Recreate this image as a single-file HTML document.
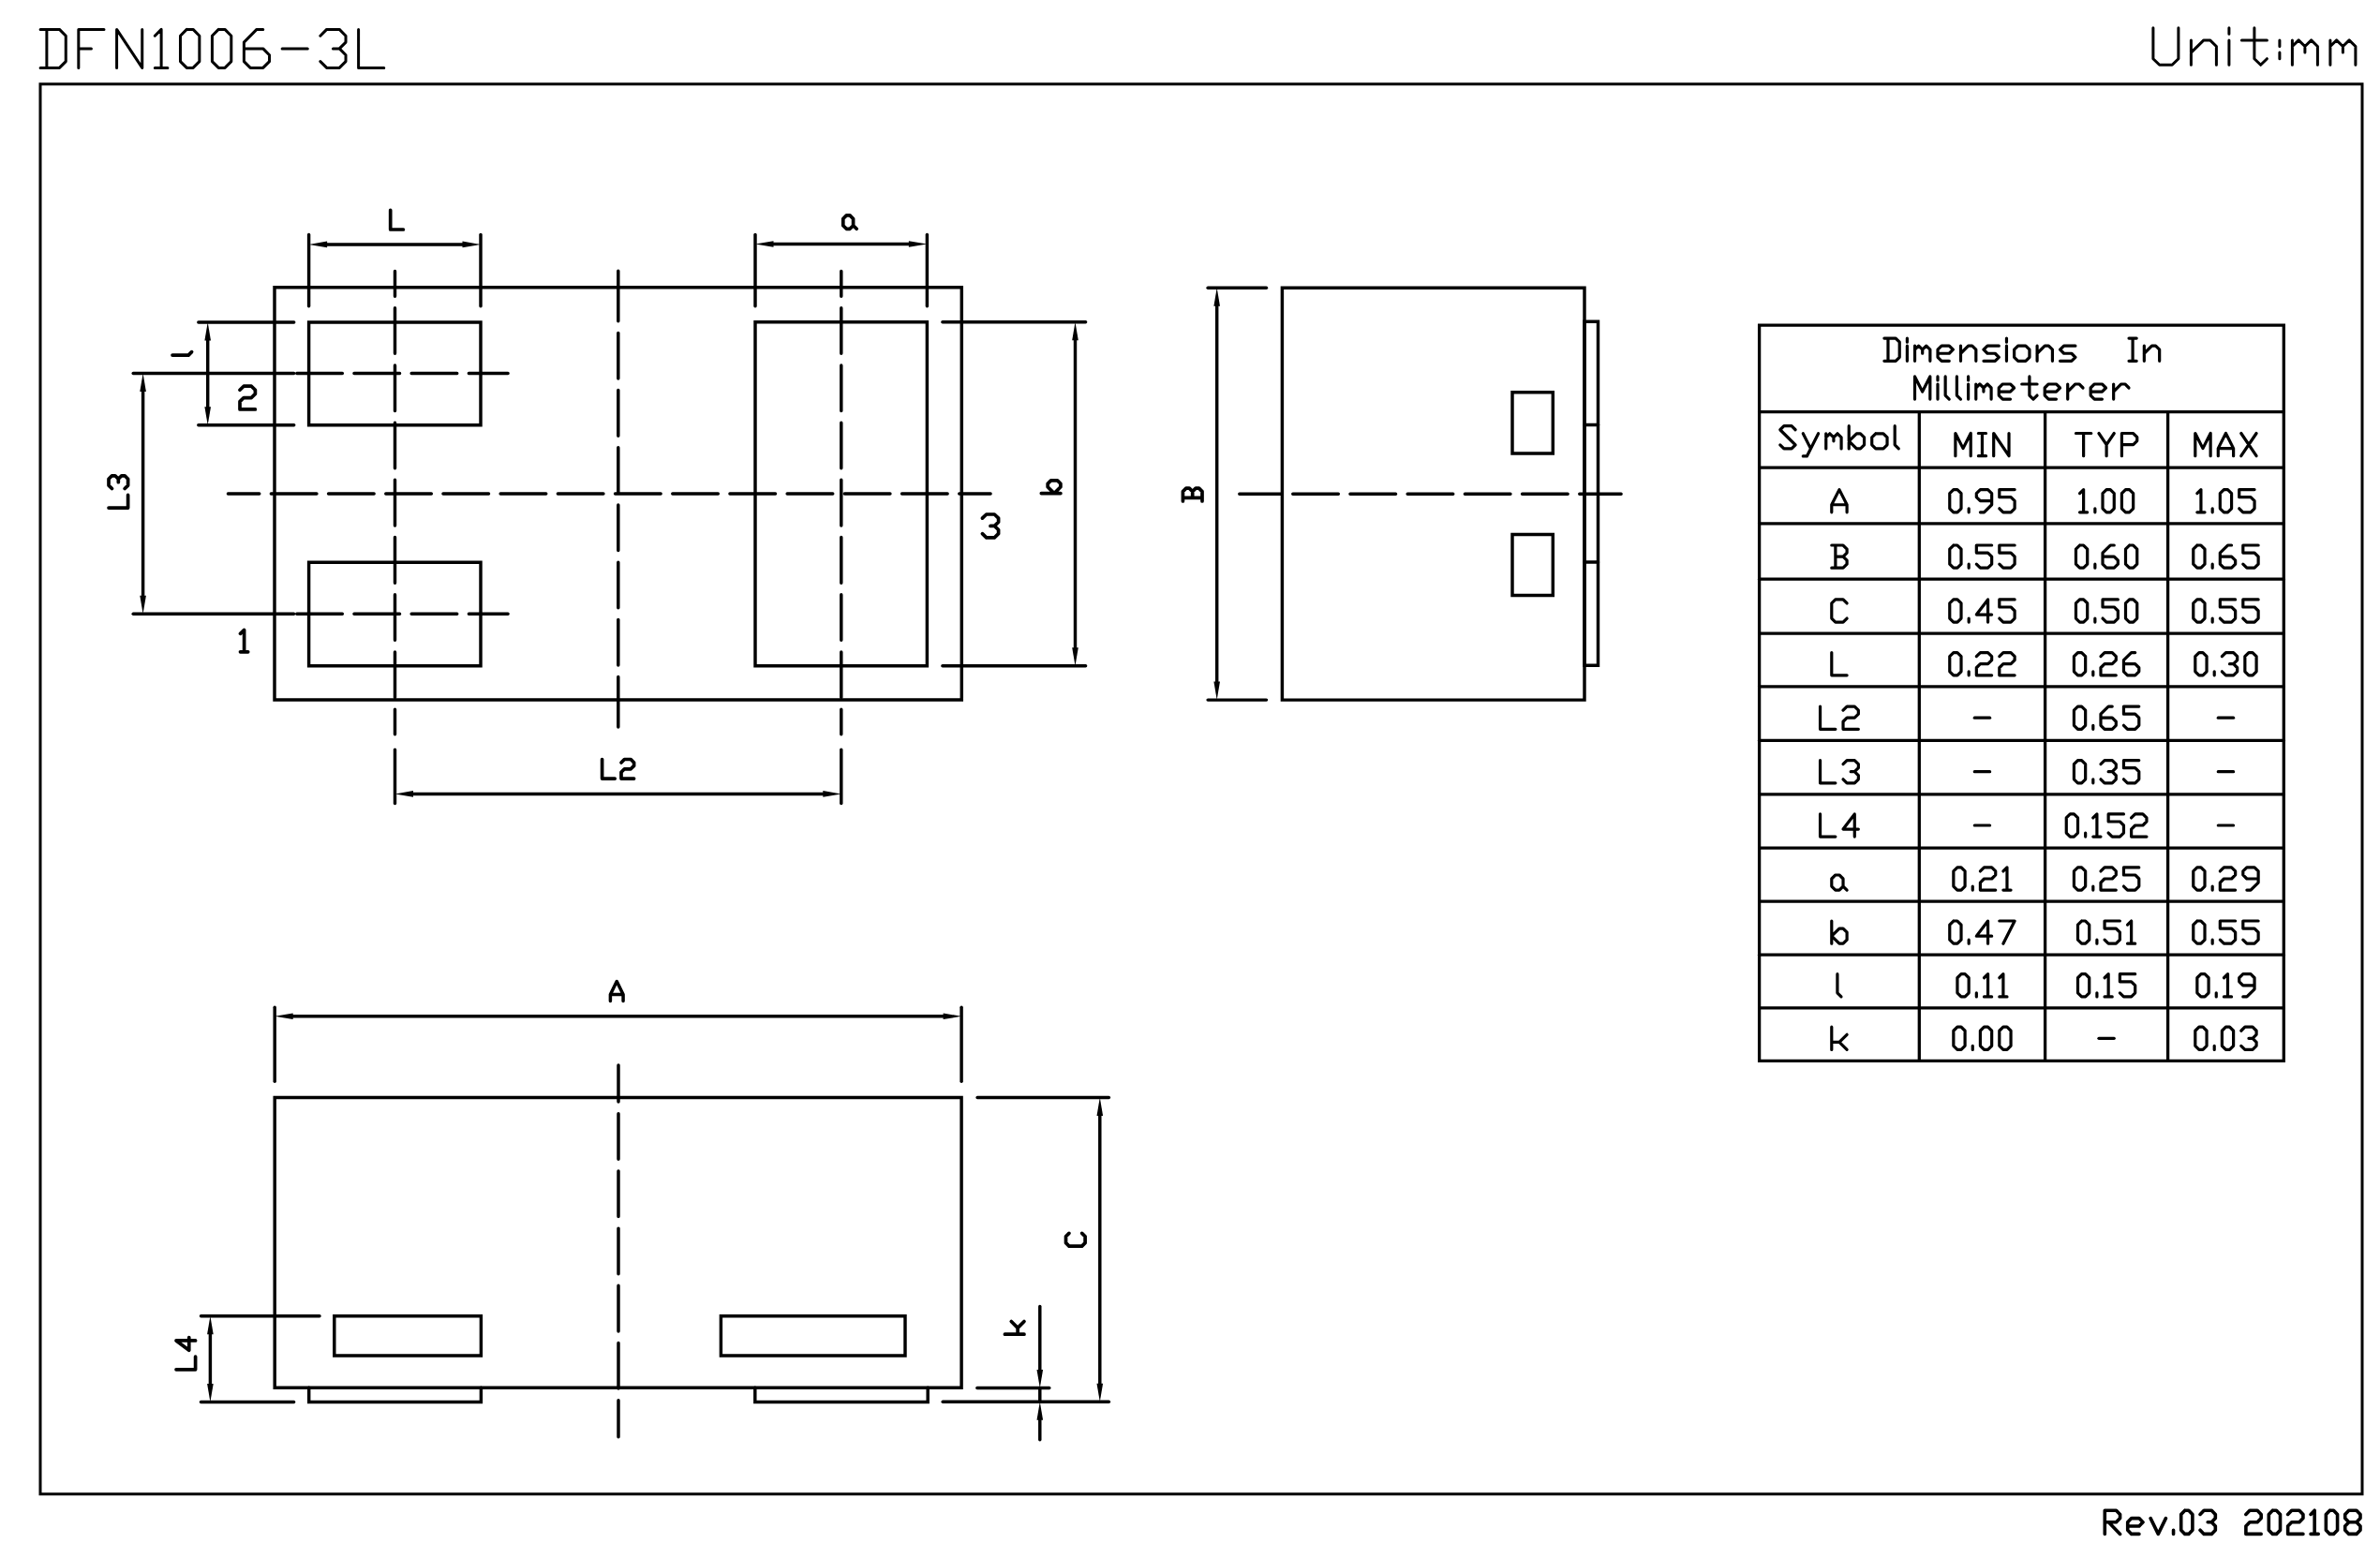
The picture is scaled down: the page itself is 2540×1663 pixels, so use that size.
<!DOCTYPE html>
<html><head><meta charset="utf-8"><title>DFN1006-3L</title>
<style>html,body{margin:0;padding:0;background:#fff;font-family:"Liberation Sans",sans-serif;}svg{display:block}</style>
</head><body>
<svg width="2540" height="1663" viewBox="0 0 2540 1663"><rect width="2540" height="1663" fill="#fff"/><g fill="none" stroke="#000" stroke-linecap="round" stroke-linejoin="round"><path d="M43 89.8H2521V1594.8H43Z" stroke-width="3.0" stroke-linejoin="miter"/>
<path d="M43.1 31.42 L63.47 31.42 L70.26 38.25 L70.26 65.57 L63.47 72.4 L43.1 72.4 M49.89 31.42 L49.89 72.4 M111 31.42 L83.84 31.42 L83.84 72.4 M83.84 51.91 L97.42 51.91 M124.58 72.4 L124.58 31.42 L151.74 72.4 L151.74 31.42 M165.32 38.25 L172.11 31.42 L172.11 72.4 M165.32 72.4 L178.9 72.4 M199.27 31.42 L206.06 31.42 L212.85 38.25 L212.85 65.57 L206.06 72.4 L199.27 72.4 L192.48 65.57 L192.48 38.25 L199.27 31.42 M233.22 31.42 L240.01 31.42 L246.8 38.25 L246.8 65.57 L240.01 72.4 L233.22 72.4 L226.43 65.57 L226.43 38.25 L233.22 31.42 M280.75 31.42 L273.96 31.42 L260.38 45.08 L260.38 65.57 L267.17 72.4 L280.75 72.4 L287.54 65.57 L287.54 58.74 L280.75 51.91 L260.38 51.91 M301.12 51.91 L328.28 51.91 M341.86 38.25 L348.65 31.42 L362.23 31.42 L369.02 38.25 L369.02 45.08 L362.23 51.91 L369.02 58.74 L369.02 65.57 L362.23 72.4 L348.65 72.4 L341.86 65.57 M355.44 51.91 L362.23 51.91 M382.6 31.42 L382.6 72.4 L409.76 72.4" stroke-width="3.0"/>
<path d="M2297.9 29.7 L2297.9 62.7 L2304.65 69.3 L2318.15 69.3 L2324.9 62.7 L2324.9 29.7 M2338.4 69.3 L2338.4 42.9 M2338.4 56.1 L2351.9 42.9 L2358.65 42.9 L2365.4 49.5 L2365.4 69.3 M2378.9 69.3 L2378.9 42.9 M2378.9 36.3 L2378.9 29.7 M2405.9 29.7 L2405.9 62.7 L2412.65 69.3 L2419.4 62.7 M2392.4 42.9 L2419.4 42.9 M2432.9 42.9 L2432.9 49.5 M2432.9 56.1 L2432.9 62.7 M2446.4 69.3 L2446.4 42.9 M2446.4 49.5 L2453.15 42.9 L2459.9 49.5 L2459.9 56.1 M2459.9 49.5 L2466.65 42.9 L2473.4 49.5 L2473.4 69.3 M2486.9 69.3 L2486.9 42.9 M2486.9 49.5 L2493.65 42.9 L2500.4 49.5 L2500.4 56.1 M2500.4 49.5 L2507.15 42.9 L2513.9 49.5 L2513.9 69.3" stroke-width="3.0"/>
<path d="M2246.3 1637.4 L2246.3 1612.2 L2258.51 1612.2 L2262.58 1616.4 L2262.58 1620.6 L2258.51 1624.8 L2246.3 1624.8 M2250.37 1624.8 L2262.58 1637.4 M2270.72 1629 L2282.93 1629 L2287 1624.8 L2282.93 1620.6 L2274.79 1620.6 L2270.72 1624.8 L2270.72 1633.2 L2274.79 1637.4 L2282.93 1637.4 M2295.14 1620.6 L2303.28 1637.4 L2311.42 1620.6 M2319.56 1633.2 L2319.56 1637.4 M2331.77 1612.2 L2335.84 1612.2 L2339.91 1616.4 L2339.91 1633.2 L2335.84 1637.4 L2331.77 1637.4 L2327.7 1633.2 L2327.7 1616.4 L2331.77 1612.2 M2348.05 1616.4 L2352.12 1612.2 L2360.26 1612.2 L2364.33 1616.4 L2364.33 1620.6 L2360.26 1624.8 L2364.33 1629 L2364.33 1633.2 L2360.26 1637.4 L2352.12 1637.4 L2348.05 1633.2 M2356.19 1624.8 L2360.26 1624.8 M2396.89 1616.4 L2400.96 1612.2 L2409.1 1612.2 L2413.17 1616.4 L2413.17 1620.6 L2409.1 1624.8 L2400.96 1624.8 L2396.89 1629 L2396.89 1637.4 L2413.17 1637.4 M2425.38 1612.2 L2429.45 1612.2 L2433.52 1616.4 L2433.52 1633.2 L2429.45 1637.4 L2425.38 1637.4 L2421.31 1633.2 L2421.31 1616.4 L2425.38 1612.2 M2441.66 1616.4 L2445.73 1612.2 L2453.87 1612.2 L2457.94 1616.4 L2457.94 1620.6 L2453.87 1624.8 L2445.73 1624.8 L2441.66 1629 L2441.66 1637.4 L2457.94 1637.4 M2466.08 1616.4 L2470.15 1612.2 L2470.15 1637.4 M2466.08 1637.4 L2474.22 1637.4 M2486.43 1612.2 L2490.5 1612.2 L2494.57 1616.4 L2494.57 1633.2 L2490.5 1637.4 L2486.43 1637.4 L2482.36 1633.2 L2482.36 1616.4 L2486.43 1612.2 M2506.78 1624.8 L2502.71 1620.6 L2502.71 1616.4 L2506.78 1612.2 L2514.92 1612.2 L2518.99 1616.4 L2518.99 1620.6 L2514.92 1624.8 L2506.78 1624.8 L2502.71 1629 L2502.71 1633.2 L2506.78 1637.4 L2514.92 1637.4 L2518.99 1633.2 L2518.99 1629 L2514.92 1624.8" stroke-width="3.6"/>
<path d="M293 306.8H1026.3V747H293Z" stroke-width="3.45" stroke-linejoin="miter"/>
<path d="M329.6 344H513V453.7H329.6Z" stroke-width="3.45" stroke-linejoin="miter"/>
<path d="M329.6 600.3H513V710.7H329.6Z" stroke-width="3.45" stroke-linejoin="miter"/>
<path d="M806 343.8H989.4V710.7H806Z" stroke-width="3.45" stroke-linejoin="miter"/>
<path d="M421.5 289.5L421.5 316.15M421.5 328.75L421.5 377.35M421.5 389.95L421.5 438.55M421.5 451.15L421.5 499.75M421.5 512.35L421.5 560.95M421.5 573.55L421.5 622.15M421.5 634.75L421.5 683.35M421.5 695.95L421.5 744.55M421.5 757.15L421.5 783.8" stroke-width="3.45"/>
<path d="M421.5 800.1L421.5 857.4" stroke-width="3.45"/>
<path d="M659.8 289.2L659.8 342.75M659.8 355.35L659.8 403.95M659.8 416.55L659.8 465.15M659.8 477.75L659.8 526.35M659.8 538.95L659.8 587.55M659.8 600.15L659.8 648.75M659.8 661.35L659.8 709.95M659.8 722.55L659.8 776.1" stroke-width="3.45"/>
<path d="M897.8 289.5L897.8 316.15M897.8 328.75L897.8 377.35M897.8 389.95L897.8 438.55M897.8 451.15L897.8 499.75M897.8 512.35L897.8 560.95M897.8 573.55L897.8 622.15M897.8 634.75L897.8 683.35M897.8 695.95L897.8 744.55M897.8 757.15L897.8 783.8" stroke-width="3.45"/>
<path d="M897.8 800.1L897.8 857.4" stroke-width="3.45"/>
<path d="M243.4 527L276.75 527M289.35 527L337.95 527M350.55 527L399.15 527M411.75 527L460.35 527M472.95 527L521.55 527M534.15 527L582.75 527M595.35 527L643.95 527M656.55 527L705.15 527M717.75 527L766.35 527M778.95 527L827.55 527M840.15 527L888.75 527M901.35 527L949.95 527M962.55 527L1011.15 527M1023.75 527L1057.1 527" stroke-width="3.45"/>
<path d="M316.75 398.5L365.35 398.5M377.95 398.5L426.55 398.5M439.15 398.5L487.75 398.5M500.35 398.5L542.1 398.5" stroke-width="3.45"/>
<path d="M142.2 398.5L313.6 398.5" stroke-width="3.45"/>
<path d="M316.75 655.3L365.35 655.3M377.95 655.3L426.55 655.3M439.15 655.3L487.75 655.3M500.35 655.3L542.1 655.3" stroke-width="3.45"/>
<path d="M142.2 655.3L313.6 655.3" stroke-width="3.45"/>
<path d="M329.6 250.4L329.6 326.7" stroke-width="3.45"/>
<path d="M513 250.4L513 326.7" stroke-width="3.45"/>
<path d="M348.1 260.9L494.5 260.9" stroke-width="3.45"/>
<path d="M329.6 260.9L349.1 257.6L349.1 264.2Z" fill="#000" stroke="none"/>
<path d="M513 260.9L493.5 264.2L493.5 257.6Z" fill="#000" stroke="none"/>
<path d="M416.7 224.42 L416.7 245 L430.42 245" stroke-width="3.7"/>
<path d="M806 250.4L806 326.7" stroke-width="3.45"/>
<path d="M989.4 250.4L989.4 326.7" stroke-width="3.45"/>
<path d="M824.5 260.5L970.9 260.5" stroke-width="3.45"/>
<path d="M806 260.5L825.5 257.2L825.5 263.8Z" fill="#000" stroke="none"/>
<path d="M989.4 260.5L969.9 263.8L969.9 257.2Z" fill="#000" stroke="none"/>
<path d="M910.6 233.5 L907 229.9 L903.4 229.9 L899.8 233.5 L899.8 240.7 L903.4 244.3 L907 244.3 L910.6 240.7 L910.6 233.5 M910.6 240.7 L914.2 244.3" stroke-width="3.7"/>
<path d="M211.8 344L313.7 344" stroke-width="3.45"/>
<path d="M211.8 453.7L313.7 453.7" stroke-width="3.45"/>
<path d="M221.7 362.5L221.7 435.2" stroke-width="3.45"/>
<path d="M221.7 344L225 363.5L218.4 363.5Z" fill="#000" stroke="none"/>
<path d="M221.7 453.7L218.4 434.2L225 434.2Z" fill="#000" stroke="none"/>
<path transform="rotate(-90 204.6 379.1)" d="M204.6 358.52 L204.6 375.67 L208.03 379.1" stroke-width="3.7"/>
<path d="M152.6 417L152.6 636.8" stroke-width="3.45"/>
<path d="M152.6 398.5L155.9 418L149.3 418Z" fill="#000" stroke="none"/>
<path d="M152.6 655.3L149.3 635.8L155.9 635.8Z" fill="#000" stroke="none"/>
<path transform="rotate(-90 136.6 542.1)" d="M136.6 521.52 L136.6 542.1 L150.32 542.1 M157.18 524.95 L160.61 521.52 L167.47 521.52 L170.9 524.95 L170.9 528.38 L167.47 531.81 L170.9 535.24 L170.9 538.67 L167.47 542.1 L160.61 542.1 L157.18 538.67 M164.04 531.81 L167.47 531.81" stroke-width="3.7"/>
<path d="M1005.9 343.8L1158.6 343.8" stroke-width="3.45"/>
<path d="M1005.9 710.7L1158.6 710.7" stroke-width="3.45"/>
<path d="M1147.5 362.3L1147.5 692.2" stroke-width="3.45"/>
<path d="M1147.5 343.8L1150.8 363.3L1144.2 363.3Z" fill="#000" stroke="none"/>
<path d="M1147.5 710.7L1144.2 691.2L1150.8 691.2Z" fill="#000" stroke="none"/>
<path transform="rotate(-90 1131.9 526.6)" d="M1131.9 506.02 L1131.9 526.6 M1131.9 519.74 L1138.76 512.88 L1142.19 512.88 L1145.62 516.31 L1145.62 523.17 L1142.19 526.6 L1138.76 526.6 L1131.9 519.74" stroke-width="3.7"/>
<path d="M440 847.4L879.3 847.4" stroke-width="3.45"/>
<path d="M421.5 847.4L441 844.1L441 850.7Z" fill="#000" stroke="none"/>
<path d="M897.8 847.4L878.3 850.7L878.3 844.1Z" fill="#000" stroke="none"/>
<path d="M642.6 810.52 L642.6 831.1 L656.2 831.1 M663 813.95 L666.4 810.52 L673.2 810.52 L676.6 813.95 L676.6 817.38 L673.2 820.81 L666.4 820.81 L663 824.24 L663 831.1 L676.6 831.1" stroke-width="3.7"/>
<path d="M256 416.3 L260.1 412.18 L268.3 412.18 L272.4 416.3 L272.4 420.42 L268.3 424.54 L260.1 424.54 L256 428.66 L256 436.9 L272.4 436.9" stroke-width="3.7"/>
<path d="M256.5 676.3 L260.6 672.4 L260.6 695.8 M256.5 695.8 L264.7 695.8" stroke-width="3.7"/>
<path d="M1048.4 553.15 L1052.7 549.02 L1061.3 549.02 L1065.6 553.15 L1065.6 557.28 L1061.3 561.41 L1065.6 565.54 L1065.6 569.67 L1061.3 573.8 L1052.7 573.8 L1048.4 569.67 M1057 561.41 L1061.3 561.41" stroke-width="3.7"/>
<path d="M1368.4 307.3H1691V747.1H1368.4Z" stroke-width="3.45" stroke-linejoin="miter"/>
<path d="M1614 418.7H1657.3V483.9H1614Z" stroke-width="3.45" stroke-linejoin="miter"/>
<path d="M1614 570.5H1657.3V635.4H1614Z" stroke-width="3.45" stroke-linejoin="miter"/>
<path d="M1691 343.2H1705.5V710.2H1691Z" stroke-width="3.45" stroke-linejoin="miter"/>
<path d="M1691 453.4L1705.5 453.4" stroke-width="3.45"/>
<path d="M1691 600L1705.5 600" stroke-width="3.45"/>
<path d="M1322.8 527.2L1367.15 527.2M1379.75 527.2L1428.35 527.2M1440.95 527.2L1489.55 527.2M1502.15 527.2L1550.75 527.2M1563.35 527.2L1611.95 527.2M1624.55 527.2L1673.15 527.2M1685.75 527.2L1730.1 527.2" stroke-width="3.45"/>
<path d="M1289.1 307.3L1351.5 307.3" stroke-width="3.45"/>
<path d="M1289.1 747.1L1351.5 747.1" stroke-width="3.45"/>
<path d="M1298.7 325.8L1298.7 728.6" stroke-width="3.45"/>
<path d="M1298.7 307.3L1302 326.8L1295.4 326.8Z" fill="#000" stroke="none"/>
<path d="M1298.7 747.1L1295.4 727.6L1302 727.6Z" fill="#000" stroke="none"/>
<path transform="rotate(-90 1283 534.9)" d="M1283 514.32 L1293.29 514.32 L1296.72 517.75 L1296.72 521.18 L1293.29 524.61 L1296.72 528.04 L1296.72 531.47 L1293.29 534.9 L1283 534.9 M1286.43 514.32 L1286.43 534.9 M1286.43 524.61 L1293.29 524.61" stroke-width="3.7"/>
<path d="M293.2 1171.5H1026.1V1481.3H293.2Z" stroke-width="3.45" stroke-linejoin="miter"/>
<path d="M356.8 1404.7H513.4V1447H356.8Z" stroke-width="3.45" stroke-linejoin="miter"/>
<path d="M769.4 1404.7H966V1447H769.4Z" stroke-width="3.45" stroke-linejoin="miter"/>
<path d="M329.7 1481.3V1496.4H513.4V1481.3M805.8 1481.3V1496.4H990.2V1481.3" stroke-width="3.45" stroke-linejoin="miter"/>
<path d="M660 1137L660 1176.1M660 1188.7L660 1237.3M660 1249.9L660 1298.5M660 1311.1L660 1359.7M660 1372.3L660 1420.9M660 1433.5L660 1482.1M660 1494.7L660 1533.8" stroke-width="3.45"/>
<path d="M293.2 1075.3L293.2 1154.3" stroke-width="3.45"/>
<path d="M1026.1 1075.3L1026.1 1154.3" stroke-width="3.45"/>
<path d="M311.7 1084.8L1007.6 1084.8" stroke-width="3.45"/>
<path d="M293.2 1084.8L312.7 1081.5L312.7 1088.1Z" fill="#000" stroke="none"/>
<path d="M1026.1 1084.8L1006.6 1088.1L1006.6 1081.5Z" fill="#000" stroke="none"/>
<path d="M651.4 1068.6 L651.4 1061.6 L658.24 1047.6 L665.08 1061.6 L665.08 1068.6 M651.4 1061.6 L665.08 1061.6" stroke-width="3.5"/>
<path d="M214.5 1404.7L341 1404.7" stroke-width="3.45"/>
<path d="M214.5 1496.4L313.6 1496.4" stroke-width="3.45"/>
<path d="M224.4 1423.2L224.4 1477.9" stroke-width="3.45"/>
<path d="M224.4 1404.7L227.7 1424.2L221.1 1424.2Z" fill="#000" stroke="none"/>
<path d="M224.4 1496.4L221.1 1476.9L227.7 1476.9Z" fill="#000" stroke="none"/>
<path transform="rotate(-90 208.6 1461.8)" d="M208.6 1441.22 L208.6 1461.8 L222.32 1461.8 M239.47 1461.8 L239.47 1441.22 L229.18 1454.94 L242.9 1454.94" stroke-width="3.7"/>
<path d="M1043.1 1171.5L1183.4 1171.5" stroke-width="3.45"/>
<path d="M1006.2 1496.3L1183.4 1496.3" stroke-width="3.45"/>
<path d="M1173.8 1190L1173.8 1477.8" stroke-width="3.45"/>
<path d="M1173.8 1171.5L1177.1 1191L1170.5 1191Z" fill="#000" stroke="none"/>
<path d="M1173.8 1496.3L1170.5 1476.8L1177.1 1476.8Z" fill="#000" stroke="none"/>
<path transform="rotate(-90 1158.1 1330.1)" d="M1171.82 1312.95 L1168.39 1309.52 L1161.53 1309.52 L1158.1 1312.95 L1158.1 1326.67 L1161.53 1330.1 L1168.39 1330.1 L1171.82 1326.67" stroke-width="3.7"/>
<path d="M1042.9 1481.5L1119.8 1481.5" stroke-width="3.45"/>
<path d="M1109.8 1394.5L1109.8 1462.1" stroke-width="3.45"/>
<path d="M1109.8 1481.5L1109.8 1496.3" stroke-width="3.45"/>
<path d="M1109.8 1515.7L1109.8 1536.8" stroke-width="3.45"/>
<path d="M1109.8 1481.5L1106.5 1462L1113.1 1462Z" fill="#000" stroke="none"/>
<path d="M1109.8 1496.3L1113.1 1515.8L1106.5 1515.8Z" fill="#000" stroke="none"/>
<path transform="rotate(-90 1093 1424.2)" d="M1093 1403.62 L1093 1424.2 M1093 1417.34 L1099.86 1417.34 L1106.72 1410.48 M1099.86 1417.34 L1106.72 1424.2" stroke-width="3.7"/>
<path d="M1877.6 347.1H2437.3V1132.4H1877.6Z" stroke-width="3.3" stroke-linejoin="miter"/>
<path d="M1877.6 439.7L2437.3 439.7" stroke-width="3.3"/>
<path d="M1877.6 499.1L2437.3 499.1" stroke-width="3.3"/>
<path d="M1877.6 558.8L2437.3 558.8" stroke-width="3.3"/>
<path d="M1877.6 618.2L2437.3 618.2" stroke-width="3.3"/>
<path d="M1877.6 676.1L2437.3 676.1" stroke-width="3.3"/>
<path d="M1877.6 732.8L2437.3 732.8" stroke-width="3.3"/>
<path d="M1877.6 790.3L2437.3 790.3" stroke-width="3.3"/>
<path d="M1877.6 847.8L2437.3 847.8" stroke-width="3.3"/>
<path d="M1877.6 905.1L2437.3 905.1" stroke-width="3.3"/>
<path d="M1877.6 962.1L2437.3 962.1" stroke-width="3.3"/>
<path d="M1877.6 1019.2L2437.3 1019.2" stroke-width="3.3"/>
<path d="M1877.6 1075.9L2437.3 1075.9" stroke-width="3.3"/>
<path d="M2048.3 439.7L2048.3 1132.4" stroke-width="3.3"/>
<path d="M2182.6 439.7L2182.6 1132.4" stroke-width="3.3"/>
<path d="M2313.6 439.7L2313.6 1132.4" stroke-width="3.3"/>
<path d="M2010.9 361.12 L2023.14 361.12 L2027.22 365.15 L2027.22 381.27 L2023.14 385.3 L2010.9 385.3 M2014.98 361.12 L2014.98 385.3 M2035.38 385.3 L2035.38 369.18 M2035.38 365.15 L2035.38 361.12 M2043.54 385.3 L2043.54 369.18 M2043.54 373.21 L2047.62 369.18 L2051.7 373.21 L2051.7 377.24 M2051.7 373.21 L2055.78 369.18 L2059.86 373.21 L2059.86 385.3 M2068.02 377.24 L2080.26 377.24 L2084.34 373.21 L2080.26 369.18 L2072.1 369.18 L2068.02 373.21 L2068.02 381.27 L2072.1 385.3 L2080.26 385.3 M2092.5 385.3 L2092.5 369.18 M2092.5 377.24 L2100.66 369.18 L2104.74 369.18 L2108.82 373.21 L2108.82 385.3 M2133.3 369.18 L2121.06 369.18 L2116.98 373.21 L2121.06 377.24 L2129.22 377.24 L2133.3 381.27 L2129.22 385.3 L2116.98 385.3 M2141.46 385.3 L2141.46 369.18 M2141.46 365.15 L2141.46 361.12 M2153.7 369.18 L2161.86 369.18 L2165.94 373.21 L2165.94 381.27 L2161.86 385.3 L2153.7 385.3 L2149.62 381.27 L2149.62 373.21 L2153.7 369.18 M2174.1 385.3 L2174.1 369.18 M2174.1 377.24 L2182.26 369.18 L2186.34 369.18 L2190.42 373.21 L2190.42 385.3 M2214.9 369.18 L2202.66 369.18 L2198.58 373.21 L2202.66 377.24 L2210.82 377.24 L2214.9 381.27 L2210.82 385.3 L2198.58 385.3 M2272.02 361.12 L2280.18 361.12 M2276.1 361.12 L2276.1 385.3 M2272.02 385.3 L2280.18 385.3 M2288.34 385.3 L2288.34 369.18 M2288.34 377.24 L2296.5 369.18 L2300.58 369.18 L2304.66 373.21 L2304.66 385.3" stroke-width="3.2"/>
<path d="M2043.5 426.1 L2043.5 401.92 L2051.66 418.04 L2059.82 401.92 L2059.82 426.1 M2067.98 426.1 L2067.98 409.98 M2067.98 405.95 L2067.98 401.92 M2076.14 401.92 L2076.14 422.07 L2080.22 426.1 M2088.38 401.92 L2088.38 422.07 L2092.46 426.1 M2100.62 426.1 L2100.62 409.98 M2100.62 405.95 L2100.62 401.92 M2108.78 426.1 L2108.78 409.98 M2108.78 414.01 L2112.86 409.98 L2116.94 414.01 L2116.94 418.04 M2116.94 414.01 L2121.02 409.98 L2125.1 414.01 L2125.1 426.1 M2133.26 418.04 L2145.5 418.04 L2149.58 414.01 L2145.5 409.98 L2137.34 409.98 L2133.26 414.01 L2133.26 422.07 L2137.34 426.1 L2145.5 426.1 M2165.9 401.92 L2165.9 422.07 L2169.98 426.1 L2174.06 422.07 M2157.74 409.98 L2174.06 409.98 M2182.22 418.04 L2194.46 418.04 L2198.54 414.01 L2194.46 409.98 L2186.3 409.98 L2182.22 414.01 L2182.22 422.07 L2186.3 426.1 L2194.46 426.1 M2206.7 426.1 L2206.7 409.98 M2206.7 418.04 L2214.86 409.98 L2218.94 409.98 L2223.02 414.01 M2231.18 418.04 L2243.42 418.04 L2247.5 414.01 L2243.42 409.98 L2235.26 409.98 L2231.18 414.01 L2231.18 422.07 L2235.26 426.1 L2243.42 426.1 M2255.66 426.1 L2255.66 409.98 M2255.66 418.04 L2263.82 409.98 L2267.9 409.98 L2271.98 414.01" stroke-width="3.2"/>
<path d="M1916.12 458.75 L1912.04 454.72 L1903.88 454.72 L1899.8 458.75 L1916.12 474.87 L1912.04 478.9 L1903.88 478.9 L1899.8 474.87 M1924.28 462.78 L1932.44 478.9 M1940.6 462.78 L1928.36 486.96 L1924.28 486.96 M1948.76 478.9 L1948.76 462.78 M1948.76 466.81 L1952.84 462.78 L1956.92 466.81 L1956.92 470.84 M1956.92 466.81 L1961 462.78 L1965.08 466.81 L1965.08 478.9 M1973.24 454.72 L1973.24 478.9 M1973.24 470.84 L1981.4 462.78 L1985.48 462.78 L1989.56 466.81 L1989.56 474.87 L1985.48 478.9 L1981.4 478.9 L1973.24 470.84 M2001.8 462.78 L2009.96 462.78 L2014.04 466.81 L2014.04 474.87 L2009.96 478.9 L2001.8 478.9 L1997.72 474.87 L1997.72 466.81 L2001.8 462.78 M2022.2 454.72 L2022.2 474.87 L2026.28 478.9" stroke-width="3.2"/>
<path d="M2086.89 486.7 L2086.89 462.52 L2095.05 478.64 L2103.21 462.52 L2103.21 486.7 M2111.37 462.52 L2119.53 462.52 M2115.45 462.52 L2115.45 486.7 M2111.37 486.7 L2119.53 486.7 M2127.69 486.7 L2127.69 462.52 L2144.01 486.7 L2144.01 462.52" stroke-width="3.2"/>
<path d="M2215.46 462.52 L2231.78 462.52 M2223.62 462.52 L2223.62 486.7 M2239.94 462.52 L2248.1 474.61 L2256.26 462.52 M2248.1 474.61 L2248.1 486.7 M2264.42 486.7 L2264.42 462.52 L2276.66 462.52 L2280.74 466.55 L2280.74 470.58 L2276.66 474.61 L2264.42 474.61" stroke-width="3.2"/>
<path d="M2342.81 486.7 L2342.81 462.52 L2350.97 478.64 L2359.13 462.52 L2359.13 486.7 M2367.29 486.7 L2367.29 478.64 L2375.45 462.52 L2383.61 478.64 L2383.61 486.7 M2367.29 478.64 L2383.61 478.64 M2391.77 462.52 L2408.09 486.7 M2408.09 462.52 L2391.77 486.7" stroke-width="3.2"/>
<path d="M1954.79 546.8 L1954.79 538.74 L1962.95 522.62 L1971.11 538.74 L1971.11 546.8 M1954.79 538.74 L1971.11 538.74" stroke-width="3.2"/>
<path d="M2084.85 522.62 L2088.93 522.62 L2093.01 526.65 L2093.01 542.77 L2088.93 546.8 L2084.85 546.8 L2080.77 542.77 L2080.77 526.65 L2084.85 522.62 M2101.17 542.77 L2101.17 546.8 M2113.41 546.8 L2117.49 546.8 L2125.65 538.74 L2125.65 526.65 L2121.57 522.62 L2113.41 522.62 L2109.33 526.65 L2109.33 530.68 L2113.41 534.71 L2125.65 534.71 M2150.13 522.62 L2133.81 522.62 L2133.81 530.68 L2146.05 530.68 L2150.13 534.71 L2150.13 542.77 L2146.05 546.8 L2137.89 546.8 L2133.81 542.77" stroke-width="3.2"/>
<path d="M2219.54 526.65 L2223.62 522.62 L2223.62 546.8 M2219.54 546.8 L2227.7 546.8 M2235.86 542.77 L2235.86 546.8 M2248.1 522.62 L2252.18 522.62 L2256.26 526.65 L2256.26 542.77 L2252.18 546.8 L2248.1 546.8 L2244.02 542.77 L2244.02 526.65 L2248.1 522.62 M2268.5 522.62 L2272.58 522.62 L2276.66 526.65 L2276.66 542.77 L2272.58 546.8 L2268.5 546.8 L2264.42 542.77 L2264.42 526.65 L2268.5 522.62" stroke-width="3.2"/>
<path d="M2344.85 526.65 L2348.93 522.62 L2348.93 546.8 M2344.85 546.8 L2353.01 546.8 M2361.17 542.77 L2361.17 546.8 M2373.41 522.62 L2377.49 522.62 L2381.57 526.65 L2381.57 542.77 L2377.49 546.8 L2373.41 546.8 L2369.33 542.77 L2369.33 526.65 L2373.41 522.62 M2406.05 522.62 L2389.73 522.62 L2389.73 530.68 L2401.97 530.68 L2406.05 534.71 L2406.05 542.77 L2401.97 546.8 L2393.81 546.8 L2389.73 542.77" stroke-width="3.2"/>
<path d="M1954.79 582.02 L1967.03 582.02 L1971.11 586.05 L1971.11 590.08 L1967.03 594.11 L1971.11 598.14 L1971.11 602.17 L1967.03 606.2 L1954.79 606.2 M1958.87 582.02 L1958.87 606.2 M1958.87 594.11 L1967.03 594.11" stroke-width="3.2"/>
<path d="M2084.85 582.02 L2088.93 582.02 L2093.01 586.05 L2093.01 602.17 L2088.93 606.2 L2084.85 606.2 L2080.77 602.17 L2080.77 586.05 L2084.85 582.02 M2101.17 602.17 L2101.17 606.2 M2125.65 582.02 L2109.33 582.02 L2109.33 590.08 L2121.57 590.08 L2125.65 594.11 L2125.65 602.17 L2121.57 606.2 L2113.41 606.2 L2109.33 602.17 M2150.13 582.02 L2133.81 582.02 L2133.81 590.08 L2146.05 590.08 L2150.13 594.11 L2150.13 602.17 L2146.05 606.2 L2137.89 606.2 L2133.81 602.17" stroke-width="3.2"/>
<path d="M2219.54 582.02 L2223.62 582.02 L2227.7 586.05 L2227.7 602.17 L2223.62 606.2 L2219.54 606.2 L2215.46 602.17 L2215.46 586.05 L2219.54 582.02 M2235.86 602.17 L2235.86 606.2 M2256.26 582.02 L2252.18 582.02 L2244.02 590.08 L2244.02 602.17 L2248.1 606.2 L2256.26 606.2 L2260.34 602.17 L2260.34 598.14 L2256.26 594.11 L2244.02 594.11 M2272.58 582.02 L2276.66 582.02 L2280.74 586.05 L2280.74 602.17 L2276.66 606.2 L2272.58 606.2 L2268.5 602.17 L2268.5 586.05 L2272.58 582.02" stroke-width="3.2"/>
<path d="M2344.85 582.02 L2348.93 582.02 L2353.01 586.05 L2353.01 602.17 L2348.93 606.2 L2344.85 606.2 L2340.77 602.17 L2340.77 586.05 L2344.85 582.02 M2361.17 602.17 L2361.17 606.2 M2381.57 582.02 L2377.49 582.02 L2369.33 590.08 L2369.33 602.17 L2373.41 606.2 L2381.57 606.2 L2385.65 602.17 L2385.65 598.14 L2381.57 594.11 L2369.33 594.11 M2410.13 582.02 L2393.81 582.02 L2393.81 590.08 L2406.05 590.08 L2410.13 594.11 L2410.13 602.17 L2406.05 606.2 L2397.89 606.2 L2393.81 602.17" stroke-width="3.2"/>
<path d="M1971.11 643.95 L1967.03 639.92 L1958.87 639.92 L1954.79 643.95 L1954.79 660.07 L1958.87 664.1 L1967.03 664.1 L1971.11 660.07" stroke-width="3.2"/>
<path d="M2084.85 639.92 L2088.93 639.92 L2093.01 643.95 L2093.01 660.07 L2088.93 664.1 L2084.85 664.1 L2080.77 660.07 L2080.77 643.95 L2084.85 639.92 M2101.17 660.07 L2101.17 664.1 M2121.57 664.1 L2121.57 639.92 L2109.33 656.04 L2125.65 656.04 M2150.13 639.92 L2133.81 639.92 L2133.81 647.98 L2146.05 647.98 L2150.13 652.01 L2150.13 660.07 L2146.05 664.1 L2137.89 664.1 L2133.81 660.07" stroke-width="3.2"/>
<path d="M2219.54 639.92 L2223.62 639.92 L2227.7 643.95 L2227.7 660.07 L2223.62 664.1 L2219.54 664.1 L2215.46 660.07 L2215.46 643.95 L2219.54 639.92 M2235.86 660.07 L2235.86 664.1 M2260.34 639.92 L2244.02 639.92 L2244.02 647.98 L2256.26 647.98 L2260.34 652.01 L2260.34 660.07 L2256.26 664.1 L2248.1 664.1 L2244.02 660.07 M2272.58 639.92 L2276.66 639.92 L2280.74 643.95 L2280.74 660.07 L2276.66 664.1 L2272.58 664.1 L2268.5 660.07 L2268.5 643.95 L2272.58 639.92" stroke-width="3.2"/>
<path d="M2344.85 639.92 L2348.93 639.92 L2353.01 643.95 L2353.01 660.07 L2348.93 664.1 L2344.85 664.1 L2340.77 660.07 L2340.77 643.95 L2344.85 639.92 M2361.17 660.07 L2361.17 664.1 M2385.65 639.92 L2369.33 639.92 L2369.33 647.98 L2381.57 647.98 L2385.65 652.01 L2385.65 660.07 L2381.57 664.1 L2373.41 664.1 L2369.33 660.07 M2410.13 639.92 L2393.81 639.92 L2393.81 647.98 L2406.05 647.98 L2410.13 652.01 L2410.13 660.07 L2406.05 664.1 L2397.89 664.1 L2393.81 660.07" stroke-width="3.2"/>
<path d="M1954.79 696.62 L1954.79 720.8 L1971.11 720.8" stroke-width="3.2"/>
<path d="M2084.85 696.62 L2088.93 696.62 L2093.01 700.65 L2093.01 716.77 L2088.93 720.8 L2084.85 720.8 L2080.77 716.77 L2080.77 700.65 L2084.85 696.62 M2101.17 716.77 L2101.17 720.8 M2109.33 700.65 L2113.41 696.62 L2121.57 696.62 L2125.65 700.65 L2125.65 704.68 L2121.57 708.71 L2113.41 708.71 L2109.33 712.74 L2109.33 720.8 L2125.65 720.8 M2133.81 700.65 L2137.89 696.62 L2146.05 696.62 L2150.13 700.65 L2150.13 704.68 L2146.05 708.71 L2137.89 708.71 L2133.81 712.74 L2133.81 720.8 L2150.13 720.8" stroke-width="3.2"/>
<path d="M2217.5 696.62 L2221.58 696.62 L2225.66 700.65 L2225.66 716.77 L2221.58 720.8 L2217.5 720.8 L2213.42 716.77 L2213.42 700.65 L2217.5 696.62 M2233.82 716.77 L2233.82 720.8 M2241.98 700.65 L2246.06 696.62 L2254.22 696.62 L2258.3 700.65 L2258.3 704.68 L2254.22 708.71 L2246.06 708.71 L2241.98 712.74 L2241.98 720.8 L2258.3 720.8 M2278.7 696.62 L2274.62 696.62 L2266.46 704.68 L2266.46 716.77 L2270.54 720.8 L2278.7 720.8 L2282.78 716.77 L2282.78 712.74 L2278.7 708.71 L2266.46 708.71" stroke-width="3.2"/>
<path d="M2346.89 696.62 L2350.97 696.62 L2355.05 700.65 L2355.05 716.77 L2350.97 720.8 L2346.89 720.8 L2342.81 716.77 L2342.81 700.65 L2346.89 696.62 M2363.21 716.77 L2363.21 720.8 M2371.37 700.65 L2375.45 696.62 L2383.61 696.62 L2387.69 700.65 L2387.69 704.68 L2383.61 708.71 L2387.69 712.74 L2387.69 716.77 L2383.61 720.8 L2375.45 720.8 L2371.37 716.77 M2379.53 708.71 L2383.61 708.71 M2399.93 696.62 L2404.01 696.62 L2408.09 700.65 L2408.09 716.77 L2404.01 720.8 L2399.93 720.8 L2395.85 716.77 L2395.85 700.65 L2399.93 696.62" stroke-width="3.2"/>
<path d="M1942.55 754.12 L1942.55 778.3 L1958.87 778.3 M1967.03 758.15 L1971.11 754.12 L1979.27 754.12 L1983.35 758.15 L1983.35 762.18 L1979.27 766.21 L1971.11 766.21 L1967.03 770.24 L1967.03 778.3 L1983.35 778.3" stroke-width="3.2"/>
<path d="M2107.29 766.21 L2123.61 766.21" stroke-width="3.2"/>
<path d="M2217.5 754.12 L2221.58 754.12 L2225.66 758.15 L2225.66 774.27 L2221.58 778.3 L2217.5 778.3 L2213.42 774.27 L2213.42 758.15 L2217.5 754.12 M2233.82 774.27 L2233.82 778.3 M2254.22 754.12 L2250.14 754.12 L2241.98 762.18 L2241.98 774.27 L2246.06 778.3 L2254.22 778.3 L2258.3 774.27 L2258.3 770.24 L2254.22 766.21 L2241.98 766.21 M2282.78 754.12 L2266.46 754.12 L2266.46 762.18 L2278.7 762.18 L2282.78 766.21 L2282.78 774.27 L2278.7 778.3 L2270.54 778.3 L2266.46 774.27" stroke-width="3.2"/>
<path d="M2367.29 766.21 L2383.61 766.21" stroke-width="3.2"/>
<path d="M1942.55 811.62 L1942.55 835.8 L1958.87 835.8 M1967.03 815.65 L1971.11 811.62 L1979.27 811.62 L1983.35 815.65 L1983.35 819.68 L1979.27 823.71 L1983.35 827.74 L1983.35 831.77 L1979.27 835.8 L1971.11 835.8 L1967.03 831.77 M1975.19 823.71 L1979.27 823.71" stroke-width="3.2"/>
<path d="M2107.29 823.71 L2123.61 823.71" stroke-width="3.2"/>
<path d="M2217.5 811.62 L2221.58 811.62 L2225.66 815.65 L2225.66 831.77 L2221.58 835.8 L2217.5 835.8 L2213.42 831.77 L2213.42 815.65 L2217.5 811.62 M2233.82 831.77 L2233.82 835.8 M2241.98 815.65 L2246.06 811.62 L2254.22 811.62 L2258.3 815.65 L2258.3 819.68 L2254.22 823.71 L2258.3 827.74 L2258.3 831.77 L2254.22 835.8 L2246.06 835.8 L2241.98 831.77 M2250.14 823.71 L2254.22 823.71 M2282.78 811.62 L2266.46 811.62 L2266.46 819.68 L2278.7 819.68 L2282.78 823.71 L2282.78 831.77 L2278.7 835.8 L2270.54 835.8 L2266.46 831.77" stroke-width="3.2"/>
<path d="M2367.29 823.71 L2383.61 823.71" stroke-width="3.2"/>
<path d="M1942.55 868.92 L1942.55 893.1 L1958.87 893.1 M1979.27 893.1 L1979.27 868.92 L1967.03 885.04 L1983.35 885.04" stroke-width="3.2"/>
<path d="M2107.29 881.01 L2123.61 881.01" stroke-width="3.2"/>
<path d="M2209.34 868.92 L2213.42 868.92 L2217.5 872.95 L2217.5 889.07 L2213.42 893.1 L2209.34 893.1 L2205.26 889.07 L2205.26 872.95 L2209.34 868.92 M2225.66 889.07 L2225.66 893.1 M2233.82 872.95 L2237.9 868.92 L2237.9 893.1 M2233.82 893.1 L2241.98 893.1 M2266.46 868.92 L2250.14 868.92 L2250.14 876.98 L2262.38 876.98 L2266.46 881.01 L2266.46 889.07 L2262.38 893.1 L2254.22 893.1 L2250.14 889.07 M2274.62 872.95 L2278.7 868.92 L2286.86 868.92 L2290.94 872.95 L2290.94 876.98 L2286.86 881.01 L2278.7 881.01 L2274.62 885.04 L2274.62 893.1 L2290.94 893.1" stroke-width="3.2"/>
<path d="M2367.29 881.01 L2383.61 881.01" stroke-width="3.2"/>
<path d="M1967.03 938.01 L1962.95 933.98 L1958.87 933.98 L1954.79 938.01 L1954.79 946.07 L1958.87 950.1 L1962.95 950.1 L1967.03 946.07 L1967.03 938.01 M1967.03 946.07 L1971.11 950.1" stroke-width="3.2"/>
<path d="M2088.93 925.92 L2093.01 925.92 L2097.09 929.95 L2097.09 946.07 L2093.01 950.1 L2088.93 950.1 L2084.85 946.07 L2084.85 929.95 L2088.93 925.92 M2105.25 946.07 L2105.25 950.1 M2113.41 929.95 L2117.49 925.92 L2125.65 925.92 L2129.73 929.95 L2129.73 933.98 L2125.65 938.01 L2117.49 938.01 L2113.41 942.04 L2113.41 950.1 L2129.73 950.1 M2137.89 929.95 L2141.97 925.92 L2141.97 950.1 M2137.89 950.1 L2146.05 950.1" stroke-width="3.2"/>
<path d="M2217.5 925.92 L2221.58 925.92 L2225.66 929.95 L2225.66 946.07 L2221.58 950.1 L2217.5 950.1 L2213.42 946.07 L2213.42 929.95 L2217.5 925.92 M2233.82 946.07 L2233.82 950.1 M2241.98 929.95 L2246.06 925.92 L2254.22 925.92 L2258.3 929.95 L2258.3 933.98 L2254.22 938.01 L2246.06 938.01 L2241.98 942.04 L2241.98 950.1 L2258.3 950.1 M2282.78 925.92 L2266.46 925.92 L2266.46 933.98 L2278.7 933.98 L2282.78 938.01 L2282.78 946.07 L2278.7 950.1 L2270.54 950.1 L2266.46 946.07" stroke-width="3.2"/>
<path d="M2344.85 925.92 L2348.93 925.92 L2353.01 929.95 L2353.01 946.07 L2348.93 950.1 L2344.85 950.1 L2340.77 946.07 L2340.77 929.95 L2344.85 925.92 M2361.17 946.07 L2361.17 950.1 M2369.33 929.95 L2373.41 925.92 L2381.57 925.92 L2385.65 929.95 L2385.65 933.98 L2381.57 938.01 L2373.41 938.01 L2369.33 942.04 L2369.33 950.1 L2385.65 950.1 M2397.89 950.1 L2401.97 950.1 L2410.13 942.04 L2410.13 929.95 L2406.05 925.92 L2397.89 925.92 L2393.81 929.95 L2393.81 933.98 L2397.89 938.01 L2410.13 938.01" stroke-width="3.2"/>
<path d="M1954.79 983.02 L1954.79 1007.2 M1954.79 999.14 L1962.95 991.08 L1967.03 991.08 L1971.11 995.11 L1971.11 1003.17 L1967.03 1007.2 L1962.95 1007.2 L1954.79 999.14" stroke-width="3.2"/>
<path d="M2084.85 983.02 L2088.93 983.02 L2093.01 987.05 L2093.01 1003.17 L2088.93 1007.2 L2084.85 1007.2 L2080.77 1003.17 L2080.77 987.05 L2084.85 983.02 M2101.17 1003.17 L2101.17 1007.2 M2121.57 1007.2 L2121.57 983.02 L2109.33 999.14 L2125.65 999.14 M2133.81 983.02 L2150.13 983.02 L2137.89 1007.2" stroke-width="3.2"/>
<path d="M2221.58 983.02 L2225.66 983.02 L2229.74 987.05 L2229.74 1003.17 L2225.66 1007.2 L2221.58 1007.2 L2217.5 1003.17 L2217.5 987.05 L2221.58 983.02 M2237.9 1003.17 L2237.9 1007.2 M2262.38 983.02 L2246.06 983.02 L2246.06 991.08 L2258.3 991.08 L2262.38 995.11 L2262.38 1003.17 L2258.3 1007.2 L2250.14 1007.2 L2246.06 1003.17 M2270.54 987.05 L2274.62 983.02 L2274.62 1007.2 M2270.54 1007.2 L2278.7 1007.2" stroke-width="3.2"/>
<path d="M2344.85 983.02 L2348.93 983.02 L2353.01 987.05 L2353.01 1003.17 L2348.93 1007.2 L2344.85 1007.2 L2340.77 1003.17 L2340.77 987.05 L2344.85 983.02 M2361.17 1003.17 L2361.17 1007.2 M2385.65 983.02 L2369.33 983.02 L2369.33 991.08 L2381.57 991.08 L2385.65 995.11 L2385.65 1003.17 L2381.57 1007.2 L2373.41 1007.2 L2369.33 1003.17 M2410.13 983.02 L2393.81 983.02 L2393.81 991.08 L2406.05 991.08 L2410.13 995.11 L2410.13 1003.17 L2406.05 1007.2 L2397.89 1007.2 L2393.81 1003.17" stroke-width="3.2"/>
<path d="M1960.91 1039.72 L1960.91 1059.87 L1964.99 1063.9" stroke-width="3.2"/>
<path d="M2093.01 1039.72 L2097.09 1039.72 L2101.17 1043.75 L2101.17 1059.87 L2097.09 1063.9 L2093.01 1063.9 L2088.93 1059.87 L2088.93 1043.75 L2093.01 1039.72 M2109.33 1059.87 L2109.33 1063.9 M2117.49 1043.75 L2121.57 1039.72 L2121.57 1063.9 M2117.49 1063.9 L2125.65 1063.9 M2133.81 1043.75 L2137.89 1039.72 L2137.89 1063.9 M2133.81 1063.9 L2141.97 1063.9" stroke-width="3.2"/>
<path d="M2221.58 1039.72 L2225.66 1039.72 L2229.74 1043.75 L2229.74 1059.87 L2225.66 1063.9 L2221.58 1063.9 L2217.5 1059.87 L2217.5 1043.75 L2221.58 1039.72 M2237.9 1059.87 L2237.9 1063.9 M2246.06 1043.75 L2250.14 1039.72 L2250.14 1063.9 M2246.06 1063.9 L2254.22 1063.9 M2278.7 1039.72 L2262.38 1039.72 L2262.38 1047.78 L2274.62 1047.78 L2278.7 1051.81 L2278.7 1059.87 L2274.62 1063.9 L2266.46 1063.9 L2262.38 1059.87" stroke-width="3.2"/>
<path d="M2348.93 1039.72 L2353.01 1039.72 L2357.09 1043.75 L2357.09 1059.87 L2353.01 1063.9 L2348.93 1063.9 L2344.85 1059.87 L2344.85 1043.75 L2348.93 1039.72 M2365.25 1059.87 L2365.25 1063.9 M2373.41 1043.75 L2377.49 1039.72 L2377.49 1063.9 M2373.41 1063.9 L2381.57 1063.9 M2393.81 1063.9 L2397.89 1063.9 L2406.05 1055.84 L2406.05 1043.75 L2401.97 1039.72 L2393.81 1039.72 L2389.73 1043.75 L2389.73 1047.78 L2393.81 1051.81 L2406.05 1051.81" stroke-width="3.2"/>
<path d="M1954.79 1096.22 L1954.79 1120.4 M1954.79 1112.34 L1962.95 1112.34 L1971.11 1104.28 M1962.95 1112.34 L1971.11 1120.4" stroke-width="3.2"/>
<path d="M2088.93 1096.22 L2093.01 1096.22 L2097.09 1100.25 L2097.09 1116.37 L2093.01 1120.4 L2088.93 1120.4 L2084.85 1116.37 L2084.85 1100.25 L2088.93 1096.22 M2105.25 1116.37 L2105.25 1120.4 M2117.49 1096.22 L2121.57 1096.22 L2125.65 1100.25 L2125.65 1116.37 L2121.57 1120.4 L2117.49 1120.4 L2113.41 1116.37 L2113.41 1100.25 L2117.49 1096.22 M2137.89 1096.22 L2141.97 1096.22 L2146.05 1100.25 L2146.05 1116.37 L2141.97 1120.4 L2137.89 1120.4 L2133.81 1116.37 L2133.81 1100.25 L2137.89 1096.22" stroke-width="3.2"/>
<path d="M2239.94 1108.31 L2256.26 1108.31" stroke-width="3.2"/>
<path d="M2346.89 1096.22 L2350.97 1096.22 L2355.05 1100.25 L2355.05 1116.37 L2350.97 1120.4 L2346.89 1120.4 L2342.81 1116.37 L2342.81 1100.25 L2346.89 1096.22 M2363.21 1116.37 L2363.21 1120.4 M2375.45 1096.22 L2379.53 1096.22 L2383.61 1100.25 L2383.61 1116.37 L2379.53 1120.4 L2375.45 1120.4 L2371.37 1116.37 L2371.37 1100.25 L2375.45 1096.22 M2391.77 1100.25 L2395.85 1096.22 L2404.01 1096.22 L2408.09 1100.25 L2408.09 1104.28 L2404.01 1108.31 L2408.09 1112.34 L2408.09 1116.37 L2404.01 1120.4 L2395.85 1120.4 L2391.77 1116.37 M2399.93 1108.31 L2404.01 1108.31" stroke-width="3.2"/></g></svg>
</body></html>
